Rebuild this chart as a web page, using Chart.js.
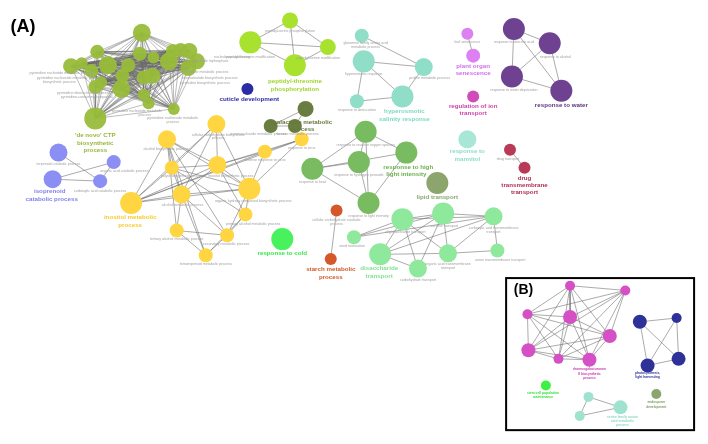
<!DOCTYPE html>
<html>
<head>
<meta charset="utf-8">
<script src="https://cdn.jsdelivr.net/npm/chart.js@4.4.1/dist/chart.umd.min.js"></script>
<style>
body { margin: 0; background: #fff; }
</style>
</head>
<body>
<canvas id="canvas" width="708" height="444"></canvas>
<script>
// node = [x, y, radius] in the layout space of the picture (708 x 444)
var ctpNodes = [[135,23,9],[89,43,7],[62,58,8],[73,55,6],[83,63,7],[100,57,9],[87,80,7],[93,75,6],[114,82,9],
    [115,68,7],[121,57,7],[133,45,7],[147,49,6],[137,70,7],[146,68,8],[137,88,6],[142,97,6],[163,53,9],
    [167,42,7],[175,41,7],[184,42,8],[192,53,8],[183,60,8],[168,103,6],[87,113,11]];
var peptidylNodes = [[288,10,8],[247,33,11],[327,38,8],[293,57,11]];
var cuticleNodes = [[244,82,6]];
var galactoseNodes = [[304,103,8],[268,121,7],[293,121,7]];
var hyperNodes = [[362,26,7],[364,53,11],[426,59,9],[404,90,11],[357,95,7]];
var senescenceNodes = [[471,24,6],[477,47,7]];
var ionNodes = [[477,90,6]];
var waterNodes = [[519,19,11],[556,34,11],[517,69,11],[568,84,11]];
var isoprenoidNodes = [[49,149,9],[106,159,7],[43,177,9],[92,179,7]];
var inositolNodes = [[212,119,9],[161,135,9],[166,165,7],[213,162,9],[176,193,9],[124,202,11],[246,187,11],
    [171,231,7],[223,236,7],[201,257,7],[242,214,7],[262,148,7],[300,135,7]];
var lightNodes = [[366,127,11],[408,149,11],[359,159,11],[311,166,11],[369,202,11]];
var lipidNodes = [[440,181,11]];
var mannitolNodes = [[471,135,9]];
var drugNodes = [[515,146,6],[530,165,6]];
var starchNodes = [[336,210,6],[330,261,6]];
var coldNodes = [[280,240,11]];
var sugarNodes = [[404,219,11],[446,213,11],[498,216,9],[354,238,7],[381,256,11],[451,255,9],[502,252,7],[420,271,9]];
// inset (B)
var rhamnoNodes = [[577,289,5],[634,294,5],[533,319,5],[577,322,7],[618,342,7],[534,357,7],[565,366,5],[597,367,7]];
var photoNodes = [[649,327,7],[687,323,5],[657,373,7],[689,366,7]];
var stemNodes = [[552,394,5]];
var endospermNodes = [[666,403,5]];
var serineNodes = [[596,406,5],[629,417,7],[587,426,5]];

// edges as index pairs (or whole cliques)
var ctpClique = [0,1,2,3,4,5,6,7,8,9,10,11,12,13,14,15,16,17,18,19,20,21,22,23,24];
var peptidylClique = [0,1,2,3];
var galactoseClique = [0,1,2];
var waterClique = [0,1,2,3];
var rhamnoClique = [0,1,2,3,4,5,6,7];
var hyperEdges = [[0,2],[1,2],[1,3],[1,4],[4,3],[3,2]];
var senescenceEdges = [[0,1]];
var isoprenoidEdges = [[0,3],[2,1],[2,3],[1,3]];
var inositolEdges = [[5,1],[5,2],[5,3],[5,4],[5,6],[5,0],[5,11],[5,12],[1,2],[1,3],[1,4],[1,6],[1,7],[1,9],[1,8],
    [0,2],[0,3],[0,6],[0,4],[2,3],[2,6],[2,4],[2,10],[3,4],[3,6],[3,11],[3,12],[4,6],[4,7],[4,9],[4,8],
    [6,10],[6,11],[6,12],[6,8],[7,8],[7,9],[8,9],[8,10],[9,10],[11,12],[3,10]];
var lightEdges = [[3,0],[3,1],[3,4],[0,4],[0,1],[2,4],[1,4],[0,2],[3,2]];
var drugEdges = [[0,1]];
var starchEdges = [[0,1]];
var sugarEdges = [[3,0],[3,1],[3,2],[0,1],[0,4],[0,7],[1,4],[1,7],[1,5],[1,2],[0,2],[2,6],[2,5],[5,6],[4,5],[4,7],[4,2],[0,5]];
var photoEdges = [[0,1],[0,2],[0,3],[1,3],[1,2],[2,3]];
var serineEdges = [[0,1],[0,2],[2,1]];

// bold cluster titles: [text, x, y, color, size]
var groupLabels = [
    ["'de novo' CTP", 87, 131, '#96b83c', 6.2], ['biosynthetic', 87, 139, '#96b83c', 6.2], ['process', 87, 147, '#96b83c', 6.2],
    ['peptidyl-threonine', 293, 74, '#9ed52a', 6.2], ['phosphorylation', 293, 82, '#9ed52a', 6.2],
    ['cuticle development', 246, 93, '#2b2ba6', 6.2],
    ['galactose metabolic', 301, 117, '#667a3c', 6.2], ['process', 301, 124, '#667a3c', 6.2],
    ['hyperosmotic', 406, 106, '#7fd8c0', 6.2], ['salinity response', 406, 114, '#7fd8c0', 6.2],
    ['plant organ', 477, 58, '#d070ec', 6.2], ['senescence', 477, 66, '#d070ec', 6.2],
    ['regulation of ion', 477, 100, '#cc44aa', 6.2], ['transport', 477, 108, '#cc44aa', 6.2],
    ['response to water', 568, 99, '#5e3282', 6.2],
    ['isoprenoid', 40, 190, '#8080e8', 6.2], ['catabolic process', 42, 198, '#8080e8', 6.2],
    ['inositol metabolic', 123, 217, '#f5cc2c', 6.2], ['process', 123, 225, '#f5cc2c', 6.2],
    ['response to high', 410, 164, '#6cb04c', 6.2], ['light intensity', 408, 172, '#6cb04c', 6.2],
    ['lipid transport', 440, 196, '#8aa870', 6.2],
    ['response to', 471, 148, '#8cdcc8', 6.2], ['mannitol', 471, 156, '#8cdcc8', 6.2],
    ['drug', 530, 176, '#b03050', 6.2], ['transmembrane', 530, 183, '#b03050', 6.2], ['transport', 530, 191, '#b03050', 6.2],
    ['starch metabolic', 330, 272, '#d05a28', 6.2], ['process', 330, 280, '#d05a28', 6.2],
    ['disaccharide', 380, 271, '#80e090', 6.2], ['transport', 380, 279, '#80e090', 6.2],
    ['response to cold', 280, 255, '#38e84c', 6.2],
    ['rhamnogalacturonan', 597, 377, '#c43cb0', 3.3], ['II biosynthetic', 597, 381.5, '#c43cb0', 3.3], ['process', 597, 386, '#c43cb0', 3.3],
    ['photosynthesis,', 657, 381, '#2e3198', 3.3], ['light harvesting', 657, 385.5, '#2e3198', 3.3],
    ['stem cell population', 549, 402, '#30e038', 3.3], ['maintenance', 549, 406.5, '#30e038', 3.3],
    ['endosperm', 666, 412, '#7f9a62', 3.3], ['development', 666, 416.5, '#7f9a62', 3.3],
    ['serine family amino', 631, 427, '#8cd8c4', 3.3], ['acid metabolic', 631, 431.5, '#8cd8c4', 3.3], ['process', 631, 436, '#8cd8c4', 3.3]
];

// small grey term names: [text, x, y]
var termLabels = [
    ['pyrimidine nucleotide metabolic process', 52, 65], ['pyrimidine nucleoside metabolic process', 60, 70],
    ['biosynthetic process', 50, 75], ['pyrimidine ribonucleotide process', 75, 86], ['pyrimidine-containing compound', 78, 91],
    ['nucleoside triphosphate', 205, 53], ['nucleoside metabolic process', 200, 64], ['ribonucleotide biosynthetic process', 205, 70],
    ['pyrimidine biosynthetic process', 200, 76], ['nucleobase-containing', 228, 48],
    ['pyrimidine nucleotide metabolic', 130, 105], ['process', 138, 109],
    ['pyrimidine nucleoside metabolic', 167, 113], ['process', 167, 117],
    ['peptidyl-serine phosphorylation', 288, 21], ['peptidyl-threonine modification', 247, 48], ['peptidyl-serine modification', 317, 49],
    ['glutamine family amino acid', 366, 34], ['metabolic process', 366, 38], ['hyperosmotic response', 364, 66],
    ['proline metabolic process', 432, 70], ['response to desiccation', 357, 104],
    ['leaf senescence', 471, 33],
    ['response to abscisic acid', 519, 33], ['response to alcohol', 562, 48], ['response to water deprivation', 519, 83],
    ['monosaccharide metabolic process', 255, 129], ['hexose metabolic process', 296, 129],
    ['terpenoid catabolic process', 49, 161], ['organic acid catabolic process', 117, 168], ['carboxylic acid catabolic process', 92, 189],
    ['cellular carbohydrate biosynthetic', 214, 130], ['process', 214, 134], ['alcohol biosynthetic process', 160, 145],
    ['polyol biosynthetic process', 177, 174], ['inositol biosynthetic process', 227, 174], ['alcohol metabolic process', 177, 204],
    ['organic hydroxy compound biosynthetic process', 250, 200], ['primary alcohol metabolic process', 250, 224],
    ['tertiary alcohol metabolic process', 171, 240], ['secondary metabolic process', 222, 245], ['tetraterpenoid metabolic process', 201, 266],
    ['defense response to virus', 262, 157], ['response to virus', 300, 144],
    ['response to reactive oxygen species', 366, 141], ['response to hydrogen peroxide', 359, 173],
    ['response to heat', 311, 180], ['response to light intensity', 369, 216],
    ['drug transport', 513, 156],
    ['cellular carbohydrate catabolic', 336, 220], ['process', 336, 224],
    ['oligosaccharide transport', 407, 233], ['sucrose transport', 447, 226], ['carboxylic acid transmembrane', 498, 228], ['transport', 498, 232],
    ['seed maturation', 352, 247], ['organic acid transmembrane', 451, 266], ['transport', 451, 270],
    ['anion transmembrane transport', 505, 262], ['carbohydrate transport', 420, 283]
];

function cliqueEdges(list) {
    var out = [];
    for (var i = 0; i < list.length; i++)
        for (var j = i + 1; j < list.length; j++) out.push([list[i], list[j]]);
    return out;
}

function edgePoints(nodes, edges) {
    var pts = [];
    edges.forEach(function (e) {
        var a = nodes[e[0]], b = nodes[e[1]];
        pts.push({x: a[0], y: a[1]}, {x: b[0], y: b[1]}, {x: b[0], y: null});
    });
    return pts;
}

var clusters = [
    {nodes: ctpNodes, edges: cliqueEdges(ctpClique), color: 'rgba(152,188,58,0.95)', line: 'rgba(100,100,100,0.55)'},
    {nodes: peptidylNodes, edges: cliqueEdges(peptidylClique), color: '#a9e22e'},
    {nodes: cuticleNodes, edges: [], color: '#2b2ba6'},
    {nodes: galactoseNodes, edges: cliqueEdges(galactoseClique), color: '#6a7d40'},
    {nodes: hyperNodes, edges: hyperEdges, color: '#90dec8'},
    {nodes: senescenceNodes, edges: senescenceEdges, color: '#dc80f2'},
    {nodes: ionNodes, edges: [], color: '#d04cb8'},
    {nodes: waterNodes, edges: cliqueEdges(waterClique), color: '#6e4290'},
    {nodes: isoprenoidNodes, edges: isoprenoidEdges, color: '#8b8ef2'},
    {nodes: inositolNodes, edges: inositolEdges, color: '#ffd542'},
    {nodes: lightNodes, edges: lightEdges, color: '#79bb60'},
    {nodes: lipidNodes, edges: [], color: '#8ba56c'},
    {nodes: mannitolNodes, edges: [], color: '#a8e6d8'},
    {nodes: drugNodes, edges: drugEdges, color: '#b93a56'},
    {nodes: starchNodes, edges: starchEdges, color: '#d6582a'},
    {nodes: coldNodes, edges: [], color: '#48f25c'},
    {nodes: sugarNodes, edges: sugarEdges, color: '#8fe99c'},
    {nodes: rhamnoNodes, edges: cliqueEdges(rhamnoClique), color: '#d450c4'},
    {nodes: photoNodes, edges: photoEdges, color: '#2e3198'},
    {nodes: stemNodes, edges: [], color: '#3cf044'},
    {nodes: endospermNodes, edges: [], color: '#8aa66c'},
    {nodes: serineNodes, edges: serineEdges, color: '#a0e2d0'}
];

var datasets = [];
clusters.forEach(function (c) {
    if (c.edges.length) {
        datasets.push({
            type: 'line', data: edgePoints(c.nodes, c.edges), borderColor: c.line || 'rgba(105,105,105,0.7)',
            borderWidth: 0.8, pointRadius: 0, pointHoverRadius: 0, fill: false, spanGaps: false, tension: 0, order: 2, clip: false
        });
    }
    datasets.push({
        type: 'bubble',
        data: c.nodes.map(function (n) { return {x: n[0], y: n[1], r: n[2]}; }),
        backgroundColor: c.color, borderWidth: 0, hoverRadius: 0, order: 1, clip: false
    });
});

var netLabels = {
    id: 'netLabels',
    afterDatasetsDraw: function (chart) {
        var ctx = chart.ctx, xs = chart.scales.x, ys = chart.scales.y;
        ctx.save();
        ctx.textAlign = 'center';
        ctx.textBaseline = 'middle';
        ctx.font = '3.6px "Liberation Sans", Arial, sans-serif';
        ctx.fillStyle = '#a0a0a0';
        termLabels.forEach(function (t) {
            ctx.fillText(t[0], xs.getPixelForValue(t[1]), ys.getPixelForValue(t[2]));
        });
        groupLabels.forEach(function (g) {
            ctx.font = 'bold ' + g[4] + 'px "Liberation Sans", Arial, sans-serif';
            ctx.fillStyle = g[3];
            ctx.fillText(g[0], xs.getPixelForValue(g[1]), ys.getPixelForValue(g[2]));
        });
        // panel letters and inset frame
        ctx.fillStyle = '#000';
        ctx.font = 'bold 18px "Liberation Sans", Arial, sans-serif';
        ctx.fillText('(A)', xs.getPixelForValue(12.5), ys.getPixelForValue(17));
        ctx.font = 'bold 14px "Liberation Sans", Arial, sans-serif';
        ctx.fillText('(B)', xs.getPixelForValue(529), ys.getPixelForValue(294));
        ctx.strokeStyle = '#000';
        ctx.lineWidth = 2;
        var x0 = xs.getPixelForValue(511), y0 = ys.getPixelForValue(281);
        ctx.strokeRect(x0, y0, xs.getPixelForValue(705) - x0, ys.getPixelForValue(441) - y0);
        ctx.restore();
    }
};

var config = {
    type: 'bubble',
    data: {datasets: datasets},
    options: {
        responsive: false,
        animation: false,
        layout: {padding: 0},
        plugins: {legend: {display: false}, tooltip: {enabled: false}},
        events: [],
        scales: {
            x: {type: 'linear', min: 0, max: 708, display: false},
            y: {type: 'linear', min: 0, max: 444, reverse: true, display: false}
        }
    },
    plugins: [netLabels]
};

window.onload = function () {
    var ctx = document.getElementById('canvas').getContext('2d');
    window.myNet = new Chart(ctx, config);
};
</script>
</body>
</html>
